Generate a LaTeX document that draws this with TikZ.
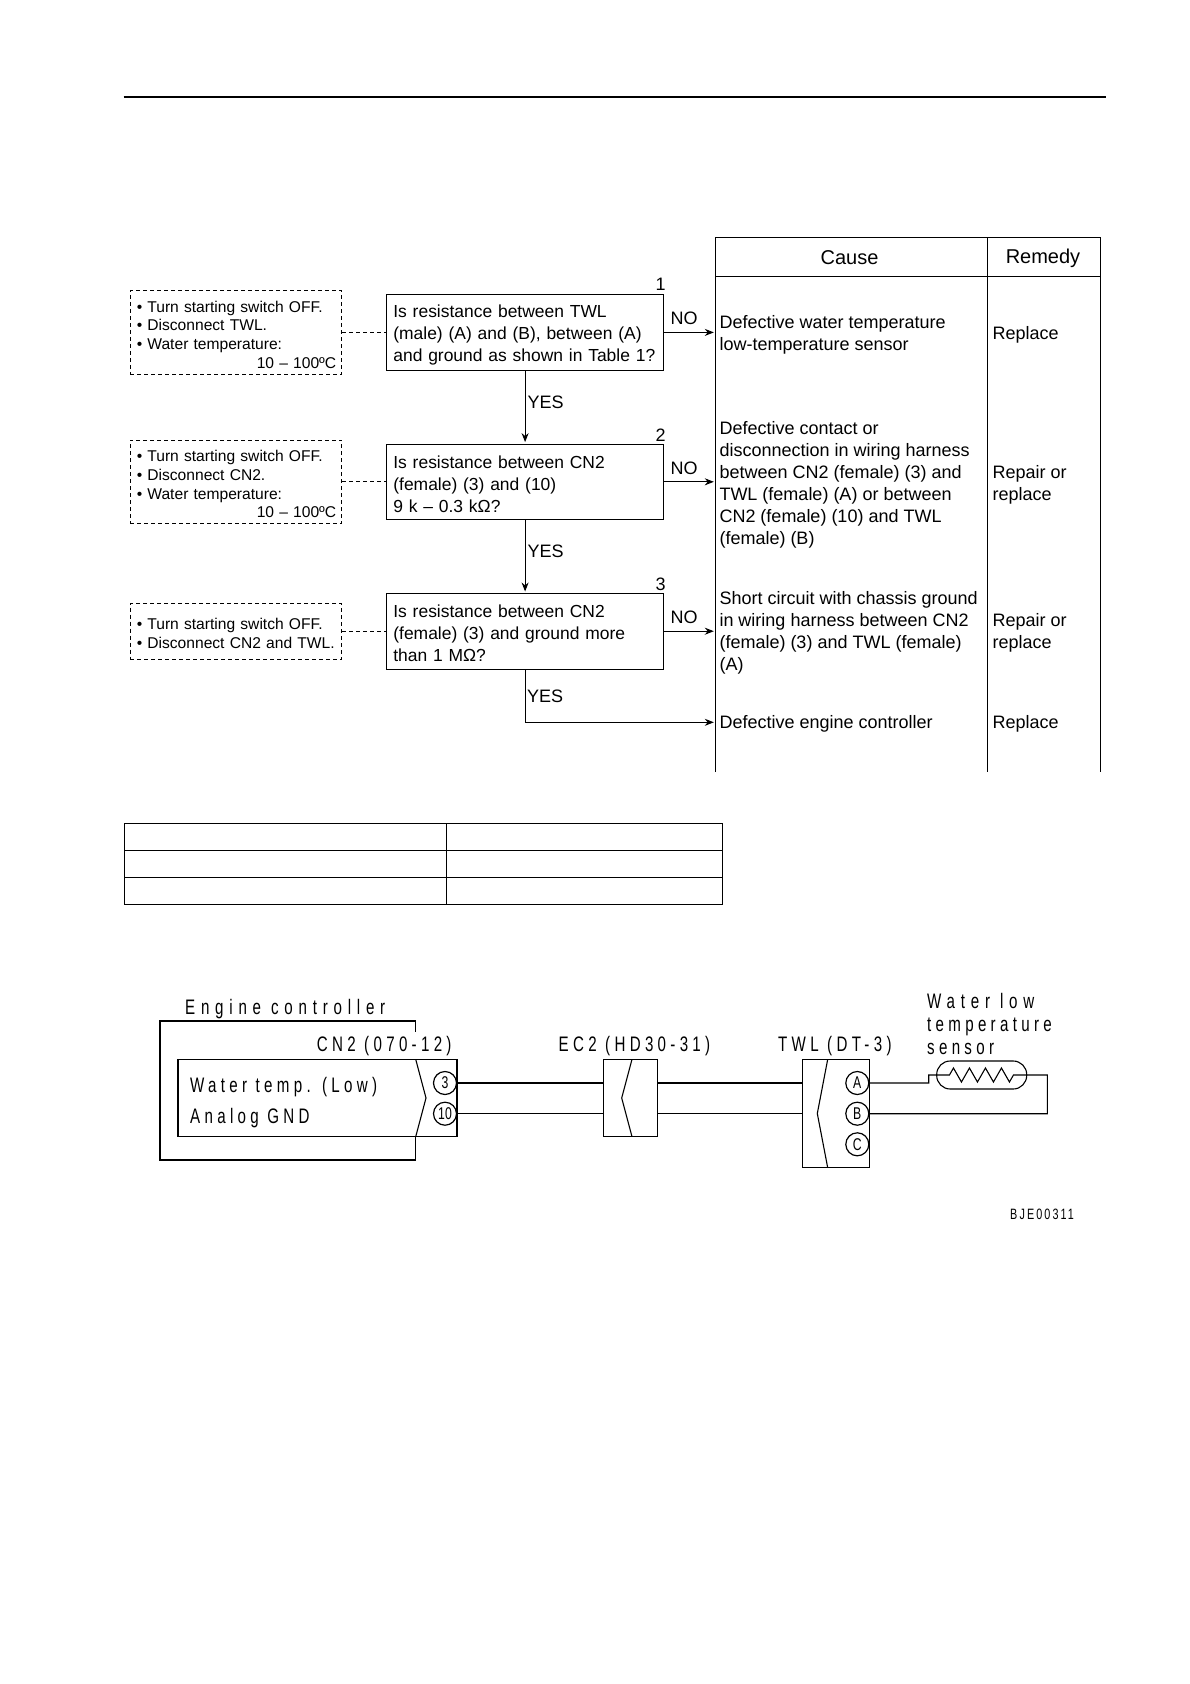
\documentclass[tikz,border=0pt]{standalone}
\usepackage{fontspec}
\usepackage{xcolor}
\usetikzlibrary{arrows.meta,positioning,calc}
\setmainfont{Liberation Sans}
\newfontfamily\cadfont[FakeStretch=0.72,LetterSpace=20.5]{Liberation Sans}
\newfontfamily\cadwidefont[FakeStretch=0.72,LetterSpace=27.5]{Liberation Sans}
\newfontfamily\pinfont[FakeStretch=0.72]{Liberation Sans}
\newfontfamily\codefont[FakeStretch=0.72,LetterSpace=14]{Liberation Sans}
\tikzset{
  qbox/.style={draw, line width=0.9pt, minimum width=277pt, minimum height=75.5pt, text width=263.5pt, inner xsep=6.75pt, inner ysep=0pt, align=left, font=\fontsize{17.45}{22}\selectfont, execute at begin node={\rule{0pt}{17.5pt}}},
  checkbox/.style={draw, dash pattern=on 4pt off 3pt, line width=0.8pt, minimum width=211.5pt, text width=198.5pt, inner xsep=6.5pt, inner ysep=0pt, align=left, font=\fontsize{15.6}{18.8}\selectfont, execute at begin node={\rule{0pt}{16pt}}},
  cause/.style={anchor=west, inner xsep=4pt, inner ysep=0pt, align=left, font=\fontsize{18}{22}\selectfont},
  plain/.style={inner sep=0pt, font=\fontsize{18}{22}\selectfont},
  head/.style={inner sep=0pt, font=\fontsize{20}{24}\selectfont},
  cad/.style={inner sep=0pt, anchor=west, align=left, font=\cadfont\fontsize{21}{24}\selectfont},
  cadwide/.style={inner sep=0pt, anchor=west, align=left, font=\cadwidefont\fontsize{21}{24}\selectfont},
  pin/.style={draw, circle, line width=1.2pt, minimum size=23pt, inner sep=0pt, font=\pinfont\fontsize{17}{17}\selectfont},
  conn/.style={draw, line width=1.1pt, inner sep=0pt},
  flow/.style={-{Stealth[length=9pt,width=7pt]}, line width=0.9pt, shorten >=1.5pt}
}
\begin{document}
\begin{tikzpicture}[x=1pt,y=-1pt]
  \useasboundingbox (0,0) rectangle (1190,1684);
  \draw[line width=1.8pt] (123.5,96.7) -- (1106,96.7);

  \node[qbox] (q1) at (525.1,332.4) {Is resistance between TWL\\(male) (A) and (B), between (A)\\and ground as shown in Table 1?};
  \node[qbox, below=73pt of q1] (q2) {Is resistance between CN2\\(female) (3) and (10)\\9 k -- 0.3 kΩ?};
  \node[qbox, below=73pt of q2] (q3) {Is resistance between CN2\\(female) (3) and ground more\\than 1 MΩ?};
  \node[checkbox, minimum height=83.7pt, left=44pt of q1] (s1) {• Turn starting switch OFF.\\• Disconnect TWL.\\• Water temperature:\\\hspace*{120pt}\makebox[0pt][l]{10 -- 100ºC}};
  \node[checkbox, minimum height=83.7pt, left=44pt of q2] (s2) {• Turn starting switch OFF.\\• Disconnect CN2.\\• Water temperature:\\\hspace*{120pt}\makebox[0pt][l]{10 -- 100ºC}};
  \node[checkbox, minimum height=55.8pt, left=44pt of q3] (s3) {• Turn starting switch OFF.\\• Disconnect CN2 and TWL.};

  \node[plain] (n1) at (660.5,284.6) {1};
  \node[plain] (n2) at (660.5,435) {2};
  \node[plain] (n3) at (660.5,584) {3};

  \node[cause] (c1) at (715.3,335) {Defective water temperature\\low-temperature sensor};
  \node[cause] (c2) at (715.3,484.8) {Defective contact or\\disconnection in wiring harness\\between CN2 (female) (3) and\\TWL (female) (A) or between\\CN2 (female) (10) and TWL\\(female) (B)};
  \node[cause] (c3) at (715.3,632.5) {Short circuit with chassis ground\\in wiring harness between CN2\\(female) (3) and TWL (female)\\(A)};
  \node[cause] (c4) at (715.3,724.3) {Defective engine controller};
  \coordinate (e4) at (715.3,722.3);
  \node[cause] (r1) at (988.5,335) {Replace};
  \node[cause] (r2) at (988.5,485) {Repair or\\replace};
  \node[cause] (r3) at (988.5,633) {Repair or\\replace};
  \node[cause] (r4) at (988.5,724.3) {Replace};
  \node[head] (hcause) at (849.5,258) {Cause};
  \node[head] (hremedy) at (1043,258.5) {Remedy};

  \draw[line width=0.9pt] (715.3,772) -- (715.3,237.4) -- (1100.5,237.4) -- (1100.5,772);
  \draw[line width=0.9pt] (987,237.4) -- (987,772);
  \draw[line width=0.9pt] (715.3,276) -- (1100.5,276);

  \draw[dash pattern=on 4pt off 3pt, line width=0.8pt] (s1.east) -- (q1.west);
  \draw[dash pattern=on 4pt off 3pt, line width=0.8pt] (s2.east) -- (q2.west);
  \draw[dash pattern=on 4pt off 3pt, line width=0.8pt] (s3.east) -- (q3.west);
  \draw[flow] (q1.south) -- node[plain, right=2pt, pos=.43] (y1) {YES} (q2.north);
  \draw[flow] (q2.south) -- node[plain, right=2pt, pos=.43] (y2) {YES} (q3.north);
  \draw[flow] (q3.south) |- (e4);
  \node[plain, anchor=west] (y3) at (527,696) {YES};
  \draw[flow] (q1.east) -- (q1.east -| c1.west);
  \draw[flow] (q2.east) -- (q2.east -| c2.west);
  \draw[flow] (q3.east) -- (q3.east -| c3.west);
  \node[plain] (no1) at (684,318) {NO};
  \node[plain] (no2) at (684,468) {NO};
  \node[plain] (no3) at (684,617.5) {NO};

  \draw[line width=0.9pt] (124.3,823.5) rectangle (722,904.5);
  \draw[line width=0.9pt] (446,823.5) -- (446,904.5);
  \draw[line width=0.9pt] (124.3,850.5) -- (722,850.5);
  \draw[line width=0.9pt] (124.3,877.5) -- (722,877.5);

  \draw[line width=1.2pt] (415.7,1031.7) -- (415.7,1021) -- (160,1021) -- (160,1160) -- (415.7,1160) -- (415.7,1136.7);
  \node[cadwide] (lctrl) at (185,1008.7) {Engine controller};
  \node[conn, minimum width=279pt, minimum height=77.4pt] (cn2) at (317.5,1098) {};
  \node[conn, minimum width=53.6pt, minimum height=77.4pt] (ec2) at (630.5,1098) {};
  \node[conn, minimum width=67pt, minimum height=108.4pt] (twl) at (835.8,1113.5) {};
  \draw[line width=1.1pt] (415.7,1059.3) -- (426,1098) -- (415.7,1136.7);
  \draw[line width=1.1pt] (632,1059.3) -- (621.7,1098) -- (632,1136.7);
  \draw[line width=1.1pt] (827.7,1059.3) -- (817.3,1113.5) -- (827.7,1167.7);

  \node[pin] (p3) at (445,1083) {3};
  \node[pin] (p10) at (445,1113.7) {10};
  \node[pin] (pa) at (857.3,1083) {A};
  \node[pin] (pb) at (857.3,1113.7) {B};
  \node[pin] (pc) at (857.3,1144.3) {C};

  \node[cad] (lcn2) at (316.7,1046.5) {CN2 (070-12)};
  \node[cad] (lec2) at (558.5,1046.5) {EC2 (HD30-31)};
  \node[cad] (ltwl) at (778,1046.5) {TWL (DT-3)};
  \node[cad] (lwater) at (190,1087) {Water temp. (Low)};
  \node[cad] (lgnd) at (190,1118) {Analog GND};
  \node[cadwide] (lsens1) at (927,1000.7) {Water low};
  \node[cad] (lsens2) at (927,1027) {temperature};
  \node[cad] (lsens3) at (927,1049) {sensor};
  \node[cad, font=\codefont\fontsize{15}{16}\selectfont] (lcode) at (1010,1214) {BJE00311};

  \node[draw, line width=1.1pt, rounded corners=13.5pt, minimum width=90pt, minimum height=28pt, inner sep=0pt] (sensor) at (981.7,1075) {};
  \draw[line width=1.1pt] (p3.east) -- (p3 -| ec2.west);
  \draw[line width=1.1pt] (p10.east) -- (p10 -| ec2.west);
  \draw[line width=1.1pt] (p3 -| ec2.east) -- (p3 -| twl.west);
  \draw[line width=1.1pt] (p10 -| ec2.east) -- (p10 -| twl.west);
  \draw[line width=1.1pt] (pa.east) -- (928.7,1083) -- (928.7,1075) -- (sensor.west) -- ++(13.3,0) -- ++(4,-7) -- ++(8,14) -- ++(8,-14) -- ++(8,14) -- ++(8,-14) -- ++(8,14) -- ++(8,-14) -- ++(8,14) -- ++(4,-7) -- (sensor.east) -- (1047.3,1075) |- (pb.east);
\end{tikzpicture}
\end{document}
